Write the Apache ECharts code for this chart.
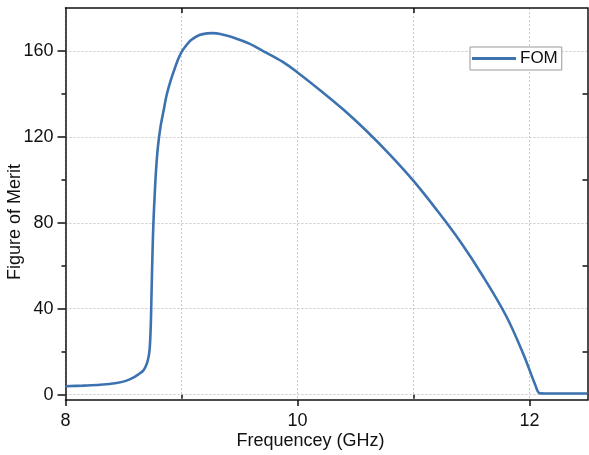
<!DOCTYPE html>
<html>
<head>
<meta charset="utf-8">
<script src="https://cdn.jsdelivr.net/npm/echarts@6/dist/echarts.min.js"></script>
<style>
  html, body { margin: 0; padding: 0; background: #fff; }
  #chart { width: 589px; height: 455px; }
</style>
</head>
<body>
<div id="chart"></div>
<script>
// Frequency sweep (GHz) and the figure of merit measured at each point
const freqGHz = [
  8.0, 8.15, 8.30, 8.44, 8.52, 8.58, 8.63, 8.667, 8.69, 8.71,
  8.725, 8.735, 8.742, 8.75, 8.758, 8.768, 8.78, 8.796, 8.82, 8.845,
  8.87, 8.90, 8.93, 8.97, 9.0, 9.04, 9.08, 9.155, 9.22, 9.27,
  9.35, 9.44, 9.58, 9.72, 9.87, 10.0, 10.2, 10.4, 10.6, 10.8,
  11.0, 11.2, 11.4, 11.6, 11.8, 11.95, 12.05, 12.09, 12.2, 12.5
];
const fom = [
  3.9, 4.2, 4.6, 5.4, 6.4, 7.8, 9.5, 11, 13, 16,
  21, 32, 48, 66, 80, 92, 104, 115, 125, 132,
  139, 145, 150, 156, 159.5, 162.5, 165, 167.4, 168.2, 168.3,
  167.7, 166.4, 163.5, 159.5, 155, 150, 141.5, 132.5, 122.5, 111.5,
  99.5, 86, 71.5, 55, 36.5, 18.5, 4.5, 0.6, 0.5, 0.5
];

// Tick positions
const xMajorTicks = [8, 10, 12];
const xMinorTicks = [9, 11];
const yMajorTicks = [0, 40, 80, 120, 160];
const yMinorTicks = [20, 60, 100, 140];

const FONT = 'Liberation Sans';
const X_MIN = 8, X_MAX = 12.5, Y_MIN = -2.5, Y_MAX = 180;
const LINE_COLOR = '#3d72b0';
const gridLine = { show: true, lineStyle: { color: '#c8c8c8', type: [2, 2], width: 1 } };
const axisLine = { show: true, onZero: false, lineStyle: { color: '#111', width: 1.5 } };

const chart = echarts.init(document.getElementById('chart'), null, { renderer: 'canvas' });

chart.setOption({
  animation: false,
  backgroundColor: '#ffffff',
  grid: { left: 65.5, right: 1.5, top: 8, bottom: 55, containLabel: false, outerBoundsMode: 'none' },
  legend: {
    left: 470, top: 47,
    padding: [3, 4, 3, 2],
    backgroundColor: '#fff',
    borderColor: '#999', borderWidth: 1, borderRadius: 0,
    itemWidth: 44, itemHeight: 3, itemGap: 4,
    icon: 'rect',
    textStyle: { fontFamily: FONT, fontSize: 17, color: '#111', padding: [0, 0, 0, -1] },
    data: ['FOM']
  },
  xAxis: [
    {
      type: 'value', position: 'bottom', min: X_MIN, max: X_MAX,
      axisLine: axisLine,
      axisTick: { show: true, inside: false, length: 6, customValues: xMajorTicks, lineStyle: { color: '#111', width: 1.5 } },
      axisLabel: { show: true, customValues: xMajorTicks, margin: 12, fontFamily: FONT, fontSize: 18, color: '#111' },
      splitLine: gridLine,
      name: 'Frequencey (GHz)', nameLocation: 'middle', nameGap: 32, nameMoveOverlap: false,
      nameTextStyle: { fontFamily: FONT, fontSize: 18, color: '#111', padding: [0, 32, 0, 0] }
    },
    {
      type: 'value', position: 'bottom', min: X_MIN, max: X_MAX,
      axisLine: { show: false },
      axisTick: { show: true, inside: false, length: 4, customValues: xMinorTicks, lineStyle: { color: '#111', width: 1.5 } },
      axisLabel: { show: false },
      splitLine: gridLine
    },
    {
      type: 'value', position: 'top', min: X_MIN, max: X_MAX,
      axisLine: axisLine,
      axisTick: { show: true, inside: true, length: 5, customValues: xMinorTicks, lineStyle: { color: '#111', width: 1.5 } },
      axisLabel: { show: false },
      splitLine: { show: false }
    }
  ],
  yAxis: [
    {
      type: 'value', position: 'left', min: Y_MIN, max: Y_MAX,
      axisLine: axisLine,
      axisTick: { show: true, inside: false, length: 8, customValues: yMajorTicks, lineStyle: { color: '#111', width: 1.5 } },
      axisLabel: { show: true, customValues: yMajorTicks, margin: 12, fontFamily: FONT, fontSize: 18, color: '#111' },
      splitLine: gridLine,
      name: 'Figure of Merit', nameLocation: 'middle', nameGap: 41, nameRotate: 90, nameMoveOverlap: false,
      nameTextStyle: { fontFamily: FONT, fontSize: 18, color: '#111', padding: [0, 36, 0, 0] }
    },
    {
      type: 'value', position: 'left', min: Y_MIN, max: Y_MAX,
      axisLine: { show: false },
      axisTick: { show: true, inside: false, length: 4, customValues: yMinorTicks, lineStyle: { color: '#111', width: 1.5 } },
      axisLabel: { show: false },
      splitLine: { show: false }
    },
    {
      type: 'value', position: 'right', min: Y_MIN, max: Y_MAX,
      axisLine: axisLine,
      axisTick: { show: true, inside: true, length: 5, customValues: yMinorTicks, lineStyle: { color: '#111', width: 1.5 } },
      axisLabel: { show: false },
      splitLine: { show: false }
    }
  ],
  series: [
    {
      name: 'FOM',
      type: 'line',
      xAxisIndex: 0, yAxisIndex: 0,
      data: freqGHz.map((f, i) => [f, fom[i]]),
      symbol: 'none',
      smooth: 0.35,
      lineStyle: { color: LINE_COLOR, width: 2.6 },
      itemStyle: { color: LINE_COLOR }
    }
  ]
});
</script>
</body>
</html>
